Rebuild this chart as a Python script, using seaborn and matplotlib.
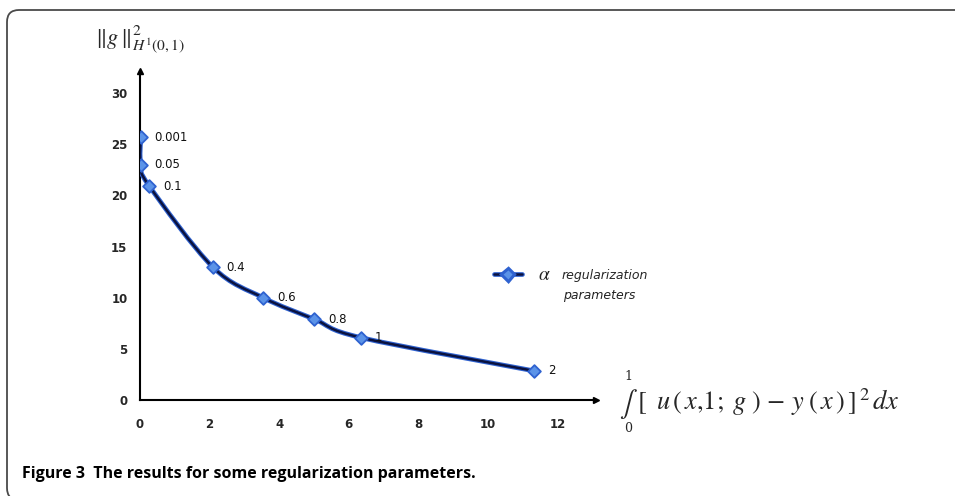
import matplotlib
matplotlib.use("Agg")
import matplotlib.pyplot as plt
import seaborn as sns
import numpy as np
import pandas as pd
from matplotlib.path import Path
from matplotlib.patches import PathPatch
from matplotlib.lines import Line2D
import matplotlib.patheffects as pe

# values
alpha_labels = ['0.001', '0.05', '0.1', '0.4', '0.6', '0.8', '1', '2']
residual = [0.02, 0.02, 0.27, 2.09, 3.54, 5.01, 6.35, 11.32]
norm_g = [25.7, 23.0, 20.9, 13.0, 10.0, 7.9, 6.1, 2.85]
x_ticks = [0, 2, 4, 6, 8, 10, 12]
y_ticks = [0, 5, 10, 15, 20, 25, 30]

df = pd.DataFrame({'residual': residual, 'norm': norm_g, 'alpha': alpha_labels})

sns.set_style("white")
plt.rcParams['font.family'] = ['DejaVu Sans']
plt.rcParams['mathtext.fontset'] = 'stix'

line_col = '#0a1240'
edge_blue = '#2f62d0'
face_blue = '#5b93e8'

fig = plt.figure(figsize=(9.55, 4.96), dpi=100)
ax = fig.add_axes([0.1466, 0.1935, 0.4774, 0.6641])

# smoothed line through the points (Catmull-Rom as Bezier)
pts = df[['residual', 'norm']].to_numpy()
verts = [tuple(pts[0])]
codes = [Path.MOVETO]
for i in range(len(pts) - 1):
    p0 = pts[i - 1] if i > 0 else pts[i]
    p1 = pts[i]
    p2 = pts[i + 1]
    p3 = pts[i + 2] if i + 2 < len(pts) else pts[i + 1]
    c1 = p1 + (p2 - p0) / 6
    c2 = p2 - (p3 - p1) / 6
    verts += [tuple(c1), tuple(c2), tuple(p2)]
    codes += [Path.CURVE4] * 3
curve = PathPatch(Path(verts, codes), facecolor='none', edgecolor=line_col, lw=1.8,
                  path_effects=[pe.Stroke(linewidth=3.4, foreground=edge_blue), pe.Normal()],
                  zorder=3)
ax.add_patch(curve)

sns.scatterplot(data=df, x='residual', y='norm', marker='D', s=42, color=face_blue,
                edgecolor=edge_blue, linewidth=1.3, zorder=4, ax=ax, legend=False)

for xv, yv, lab in zip(residual, norm_g, alpha_labels):
    ax.annotate(lab, (xv, yv), xytext=(10, 0), textcoords='offset points',
                va='center', ha='left', fontsize=8.5, color='#111111')

ax.set_xlim(0, 13.1)
ax.set_ylim(0, 32.2)
ax.set_xticks(x_ticks)
ax.set_yticks(y_ticks)
ax.set_xlabel('')
ax.set_ylabel('')
for s in ['top', 'right']:
    ax.spines[s].set_visible(False)
for s in ['left', 'bottom']:
    ax.spines[s].set_color('black')
    ax.spines[s].set_linewidth(1.5)
ax.tick_params(axis='both', direction='out', length=3, width=1, color='black',
               labelsize=8.5, pad=6)
ax.tick_params(axis='x', pad=10)
for t in ax.get_xticklabels() + ax.get_yticklabels():
    t.set_fontweight('bold')

# arrow heads at axis ends
ax.plot([1], [0], marker='>', color='black', markersize=4, transform=ax.transAxes, clip_on=False)
ax.plot([0], [1], marker='^', color='black', markersize=4, transform=ax.transAxes, clip_on=False)

handle = Line2D([], [], color=line_col, lw=1.8, marker='D', markersize=5.5,
                markerfacecolor=face_blue, markeredgecolor=edge_blue,
                path_effects=[pe.Stroke(linewidth=3.4, foreground=edge_blue), pe.Normal()])
leg = ax.legend([handle], ['regularization'],
                loc='center left', bbox_to_anchor=(0.752, 0.379), frameon=False,
                handlelength=2.2, handletextpad=3.2, prop={'size': 9, 'style': 'italic'})
fig.text(538 / 955, 1 - 275 / 496, r'$\alpha$', fontsize=14, va='center', ha='left')
fig.text(563 / 955, 1 - 296 / 496, 'parameters', fontsize=9, style='italic',
         color='#222222', va='center', ha='left')

fig.text(95 / 955, 1 - 40 / 496, r'$\|g\,\|^{2}_{H^{1}(0,1)}$', fontsize=16, va='center', ha='left')

# x-axis title, integral with limits above and below
fig.text(619 / 955, 1 - 404 / 496, r'$\int$', fontsize=19, va='center', ha='left')
fig.text(628 / 955, 1 - 377 / 496, '1', fontsize=9, family='serif', va='center', ha='center')
fig.text(628 / 955, 1 - 429 / 496, '0', fontsize=9, family='serif', va='center', ha='center')
fig.text(637 / 955, 1 - 402 / 496,
         r'$[\;\;u\,(\,x{,}1;\;g\;)\,-\,y\;(\,x\,)\,]^{\,2}\,dx$',
         fontsize=19, va='center', ha='left')

fig.text(22 / 955, 1 - 478 / 496, 'Figure 3  The results for some regularization parameters.',
         fontsize=11.5, fontweight='bold', color='black', family=['Open Sans', 'DejaVu Sans'],
         va='baseline', ha='left')

# panel frame: straight top edge, rounded top-left and bottom-left corners
r = 0.12
left, top, bottom = 0.07, 4.86, -0.04
fverts = [(9.7, top), (left + r, top), (left, top), (left, top - r),
          (left, bottom + r), (left, bottom), (left + r, bottom)]
fcodes = [Path.MOVETO, Path.LINETO, Path.CURVE3, Path.CURVE3,
          Path.LINETO, Path.CURVE3, Path.CURVE3]
frame = PathPatch(Path(fverts, fcodes), transform=fig.dpi_scale_trans, facecolor='none',
                  edgecolor='#4a4a4a', lw=1.3, clip_on=False)
fig.patches.append(frame)

fig.savefig('out.png', dpi=100)
